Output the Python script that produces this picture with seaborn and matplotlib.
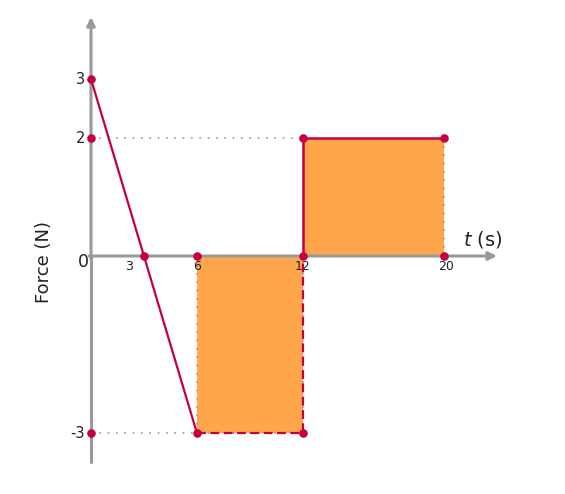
import numpy as np
import pandas as pd
import matplotlib
matplotlib.use("Agg")
import matplotlib.pyplot as plt
import seaborn as sns

# force profile (t in s, F in N)
path_solid1_t = [0, 6]
path_solid1_f = [3, -3]
path_dashed_t = [6, 12, 12]
path_dashed_f = [-3, -3, 0]
path_solid2_t = [12, 12, 20]
path_solid2_f = [0, 2, 2]

pts_t = [0, 0, 0, 3, 6, 6, 12, 12, 12, 20, 20]
pts_f = [3, 2, -3, 0, 0, -3, -3, 0, 2, 2, 0]

rect_neg = (6, 12, -3)
rect_pos = (12, 20, 2)

yticks = [3, 2, -3]
xticks = [3, 6, 12, 20]
xtick_shift = {3: -0.85, 6: 0, 12: 0, 20: 0.1}

crimson = "#C4003D"
orange = "#FFA64D"
grey = "#999999"

sns.set_style("white")
fig = plt.figure(figsize=(5.65, 4.94), dpi=100)
ax = fig.add_axes([0, 0, 1, 1])
ax.set_xlim(-91 / 17.65, (565 - 91) / 17.65)
ax.set_ylim(-238 / 59, 256 / 59)
ax.axis("off")

# filled areas
ax.fill_between([rect_neg[0], rect_neg[1]], rect_neg[2], 0, color=orange, lw=0, zorder=1)
ax.fill_between([rect_pos[0], rect_pos[1]], 0, rect_pos[2], color=orange, lw=0, zorder=1)

# guide lines
dot = dict(color=grey, lw=1.2, ls=(0, (1, 4)), zorder=2)
ax.plot([0, 12], [2, 2], **dot)
ax.plot([0, 12], [-3, -3], **dot)
ax.plot([6, 6], [-3, 0], **dot)
ax.plot([12, 12], [-3, 0], **dot)
ax.plot([20, 20], [0, 2], **dot)

# axes with arrows
ax.annotate("", xy=(23.0, 0), xytext=(-0.1, 0),
            arrowprops=dict(arrowstyle="-|>", color=grey, lw=2.2, mutation_scale=12,
                            shrinkA=0, shrinkB=0), zorder=3)
ax.plot([0, 0], [-3.49, 0], color=grey, lw=2.2, zorder=3)
ax.annotate("", xy=(0, 4.05), xytext=(0, -0.05),
            arrowprops=dict(arrowstyle="-|>", color=grey, lw=2.2, mutation_scale=12,
                            shrinkA=0, shrinkB=0), zorder=3)

# force lines
sns.lineplot(x=path_solid1_t, y=path_solid1_f, color=crimson, lw=1.6, ax=ax,
             sort=False, estimator=None, zorder=4)
sns.lineplot(x=path_dashed_t, y=path_dashed_f, color=crimson, lw=1.6, ax=ax,
             sort=False, estimator=None, zorder=4, linestyle=(0, (4, 2)))
sns.lineplot(x=path_solid2_t, y=path_solid2_f, color=crimson, lw=1.8, ax=ax,
             sort=False, estimator=None, zorder=4)
sns.scatterplot(x=pts_t, y=pts_f, color=crimson, s=38, edgecolor=crimson,
                linewidth=0, ax=ax, zorder=5)

# tick labels
for v in yticks:
    ax.text(-0.35, v, str(v), ha="right", va="center", fontsize=10.5, color="#222222")
ax.text(-0.1, -0.1, "0", ha="right", va="center", fontsize=12.5, color="#222222")
for v in xticks:
    ax.text(v + xtick_shift[v], -0.06, str(v), ha="center", va="top", fontsize=9,
            color="#222222")

ax.text(22.2, 0.28, r"$t$ (s)", ha="center", va="center", fontsize=14, color="#222222")
ax.text(-2.65, -0.1, "Force (N)", rotation=90, ha="center", va="center",
        fontsize=13, color="#222222")

fig.savefig("out.png", dpi=100)
